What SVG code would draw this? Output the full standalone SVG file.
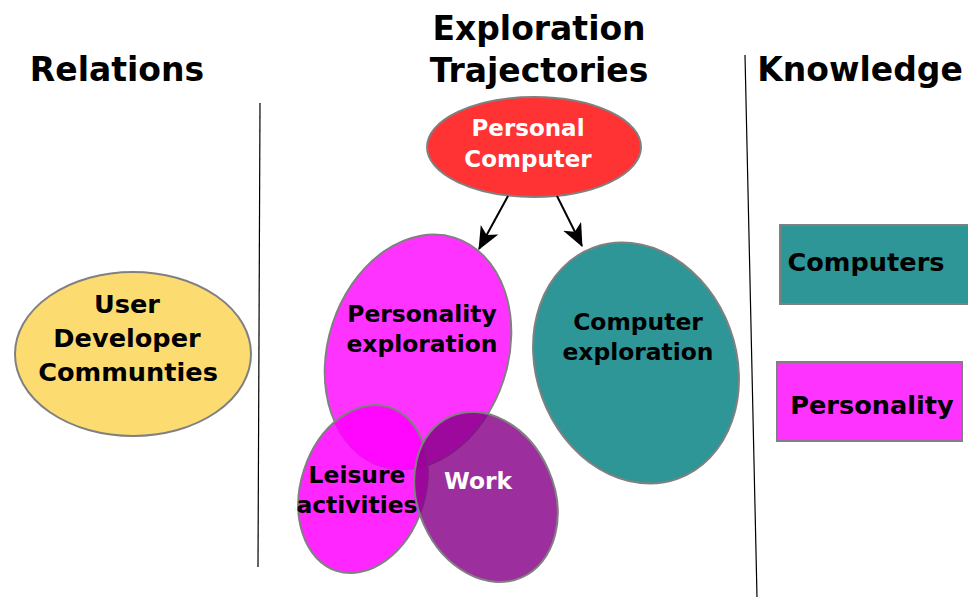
<svg xmlns="http://www.w3.org/2000/svg" width="968" height="599" viewBox="0 0 968 599">
<style>
text{font-family:"DejaVu Sans","Liberation Sans",sans-serif;font-weight:bold;text-anchor:middle}
.h{font-size:33px;fill:#000}
.t{font-size:23.4px;fill:#000}
.w{font-size:23px;fill:#fff}
.b{font-size:25.6px;fill:#000}
.sep{stroke:#000;stroke-width:1.2;fill:none}
.shape{stroke:#808080;stroke-width:2}
.conn{stroke:#000;stroke-width:2;fill:none}
</style>
<defs>
<marker id="ah" markerWidth="24" markerHeight="22" refX="22" refY="10" orient="auto" markerUnits="userSpaceOnUse">
<path d="M0,0 L23,10 L0,20 L6,10 Z" fill="#000"/>
</marker>
</defs>
<rect width="968" height="599" fill="#fff"/>
<g id="headings">
<text class="h" x="117" y="81">Relations</text>
<text class="h" x="539" y="40">Exploration</text>
<text class="h" x="539" y="82">Trajectories</text>
<text class="h" x="860" y="81">Knowledge</text>
</g>
<g id="separators">
<line class="sep" x1="260" y1="103" x2="258" y2="567"/>
<line class="sep" x1="745" y1="55" x2="757" y2="597"/>
</g>
<g id="relations">
<ellipse class="shape" cx="133" cy="354" rx="118" ry="82" fill="#fcdc70"/>
<text class="b" x="127" y="313">User</text>
<text class="b" x="127" y="347">Developer</text>
<text class="b" x="128" y="381">Communties</text>
</g>
<g id="personal-computer">
<ellipse class="shape" cx="534" cy="147" rx="107" ry="50" fill="#ff3333"/>
<text class="w" x="528" y="136">Personal</text>
<text class="w" x="528" y="167">Computer</text>
</g>
<g id="personality-exploration">
<ellipse class="shape" cx="418" cy="352" rx="90" ry="120" transform="rotate(18 418 352)" fill="#ff33ff"/>
<text class="t" x="422" y="322">Personality</text>
<text class="t" x="422" y="352">exploration</text>
</g>
<g id="computer-exploration">
<ellipse class="shape" cx="636" cy="363" rx="100" ry="123" transform="rotate(-20 636 363)" fill="#2e9696"/>
<text class="t" x="638" y="330">Computer</text>
<text class="t" x="638" y="360">exploration</text>
</g>
<g id="leisure">
<ellipse class="shape" cx="363" cy="489" rx="62" ry="86" transform="rotate(18 363 489)" fill="#ff00ff" fill-opacity="0.85"/>
<text class="t" x="357" y="483">Leisure</text>
<text class="t" x="357" y="513">activities</text>
</g>
<g id="work">
<ellipse class="shape" cx="486" cy="497" rx="68" ry="88" transform="rotate(-24 486 497)" fill="#880088" fill-opacity="0.82"/>
<text class="w" x="478" y="489" style="font-size:23.4px">Work</text>
</g>
<g id="computers">
<rect class="shape" x="780" y="225" width="192" height="79" fill="#2e9696"/>
<text class="b" x="866" y="271">Computers</text>
</g>
<g id="personality">
<rect class="shape" x="777" y="362" width="185" height="79" fill="#ff33ff"/>
<text class="b" x="872" y="414">Personality</text>
</g>
<g id="connectors">
<line class="conn" x1="508" y1="196" x2="479" y2="249" marker-end="url(#ah)"/>
<line class="conn" x1="557" y1="196" x2="582" y2="246" marker-end="url(#ah)"/>
</g>
</svg>
